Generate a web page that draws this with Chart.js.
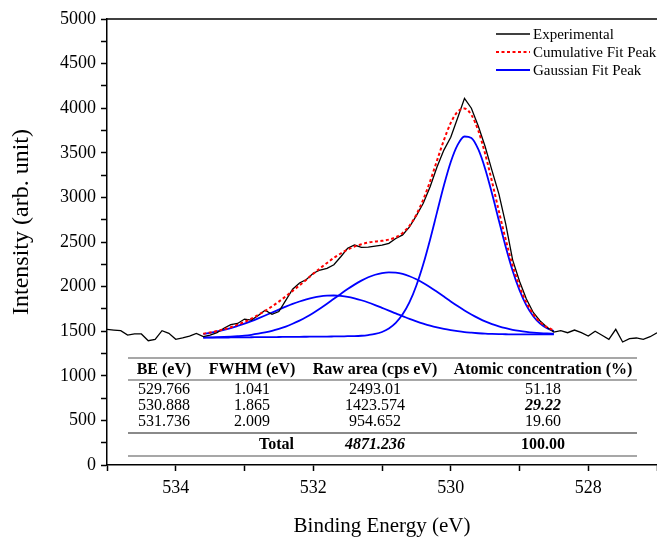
<!DOCTYPE html>
<html>
<head>
<meta charset="utf-8">
<script src="https://cdn.jsdelivr.net/npm/chart.js@4.4.1/dist/chart.umd.min.js"></script>
<style>
  html, body { margin: 0; padding: 0; background: #fff; }
  #wrap { width: 657px; height: 539px; }
</style>
</head>
<body>
<div id="wrap"><canvas id="xpsChart" width="657" height="539"></canvas></div>
<script>
const expEnergy = [
  535.0, 534.9, 534.8, 534.7, 534.6, 534.5, 534.4, 534.3, 534.2, 534.1,
  534.0, 533.9, 533.8, 533.7, 533.6, 533.5, 533.4, 533.3, 533.2, 533.1,
  533.0, 532.9, 532.8, 532.7, 532.6, 532.5, 532.4, 532.3, 532.2, 532.1,
  532.0, 531.9, 531.8, 531.7, 531.6, 531.5, 531.4, 531.3, 531.2, 531.1,
  531.0, 530.9, 530.8, 530.7, 530.6, 530.5, 530.4, 530.3, 530.2, 530.1,
  530.0, 529.9, 529.8, 529.7, 529.6, 529.5, 529.4, 529.3, 529.2, 529.1,
  529.0, 528.9, 528.8, 528.7, 528.6, 528.5, 528.4, 528.3, 528.2, 528.1,
  528.0, 527.9, 527.8, 527.7, 527.6, 527.5, 527.4, 527.3, 527.2, 527.1,
  527.0
];
const experimental = [
  1520, 1513, 1506, 1457, 1469, 1469, 1393, 1409, 1506, 1476,
  1409, 1424, 1446, 1476, 1440, 1457, 1483, 1533, 1574, 1587,
  1636, 1624, 1677, 1735, 1690, 1720, 1845, 1970, 2040, 2080,
  2150, 2186, 2205, 2245, 2335, 2430, 2466, 2440, 2442, 2453,
  2464, 2485, 2540, 2580, 2670, 2795, 2935, 3120, 3340, 3530,
  3675, 3890, 4110, 4000, 3800, 3570, 3300, 3040, 2700, 2300,
  2060, 1860, 1710, 1615, 1545, 1490, 1506, 1483, 1513, 1483,
  1446, 1499, 1454, 1409, 1521, 1379, 1416, 1424, 1409, 1438,
  1483
];

// fitted region
const fitEnergy = [
  533.6, 533.5, 533.4, 533.3, 533.2, 533.1, 533.0, 532.9, 532.8, 532.7,
  532.6, 532.5, 532.4, 532.3, 532.2, 532.1, 532.0, 531.9, 531.8, 531.7,
  531.6, 531.5, 531.4, 531.3, 531.2, 531.1, 531.0, 530.9, 530.8, 530.7,
  530.6, 530.5, 530.4, 530.3, 530.2, 530.1, 530.0, 529.9, 529.8, 529.7,
  529.6, 529.5, 529.4, 529.3, 529.2, 529.1, 529.0, 528.9, 528.8, 528.7,
  528.6, 528.5
];
const cumulativeFit = [
  1471, 1485, 1502, 1521, 1545, 1573, 1604, 1641, 1683, 1728,
  1778, 1832, 1890, 1952, 2014, 2078, 2143, 2206, 2265, 2322,
  2371, 2415, 2449, 2475, 2494, 2505, 2513, 2527, 2553, 2602,
  2682, 2806, 2975, 3181, 3412, 3641, 3835, 3961, 3996, 3925,
  3750, 3490, 3177, 2845, 2524, 2238, 2004, 1823, 1691, 1602,
  1545, 1510
];
const peak529 = [
  1427, 1428, 1429, 1429, 1430, 1431, 1431, 1432, 1433, 1434,
  1434, 1435, 1436, 1437, 1437, 1438, 1439, 1440, 1440, 1441,
  1442, 1444, 1445, 1449, 1457, 1469, 1491, 1530, 1593, 1689,
  1826, 2013, 2250, 2529, 2832, 3133, 3397, 3589, 3683, 3666,
  3540, 3322, 3044, 2741, 2444, 2178, 1959, 1790, 1668, 1585,
  1533, 1502
];
const peak530 = [
  1429, 1431, 1433, 1436, 1440, 1445, 1451, 1460, 1472, 1486,
  1503, 1525, 1551, 1583, 1618, 1659, 1705, 1755, 1807, 1863,
  1918, 1972, 2022, 2067, 2105, 2133, 2152, 2160, 2157, 2142,
  2116, 2082, 2041, 1993, 1941, 1888, 1834, 1782, 1733, 1688,
  1647, 1610, 1580, 1555, 1534, 1516, 1503, 1493, 1485, 1479,
  1475, 1473
];
const peak531 = [
  1469, 1482, 1497, 1514, 1535, 1559, 1584, 1613, 1644, 1676,
  1709, 1742, 1775, 1806, 1833, 1857, 1877, 1891, 1898, 1900,
  1895, 1885, 1868, 1847, 1822, 1793, 1762, 1731, 1699, 1669,
  1638, 1611, 1586, 1563, 1543, 1526, 1512, 1500, 1490, 1483,
  1477, 1472, 1469, 1467, 1466, 1464, 1464, 1464, 1464, 1464,
  1465, 1465
];

const xTickLabels = [534, 532, 530, 528];
const yTickLabels = [0, 500, 1000, 1500, 2000, 2500, 3000, 3500, 4000, 4500, 5000];

const tableHead = ["BE (eV)", "FWHM (eV)", "Raw area (cps eV)", "Atomic concentration (%)"];
const tableRows = [
  ["529.766", "1.041", "2493.01", "51.18"],
  ["530.888", "1.865", "1423.574", "29.22"],
  ["531.736", "2.009", "954.652", "19.60"]
];
const tableTotal = ["Total", "4871.236", "100.00"];

const SERIF = '"Liberation Serif", "Times New Roman", serif';

function pts(xs, ys) {
  return xs.map((x, i) => ({ x: x, y: ys[i] }));
}

// legend + table + top frame + y title drawn on the canvas
const extrasPlugin = {
  id: "extras",
  afterDraw(chart) {
    const ctx = chart.ctx;
    const a = chart.chartArea;
    ctx.save();

    // top frame line
    ctx.strokeStyle = "#000";
    ctx.lineWidth = 1.5;
    ctx.beginPath();
    ctx.moveTo(a.left - 1, a.top);
    ctx.lineTo(a.right, a.top);
    ctx.stroke();

    // y axis title (sits a bit above the axis centre in the original)
    ctx.save();
    ctx.translate(22, 222);
    ctx.rotate(-Math.PI / 2);
    ctx.font = "24px " + SERIF;
    ctx.fillStyle = "#000";
    ctx.textAlign = "center";
    ctx.textBaseline = "middle";
    ctx.fillText("Intensity (arb. unit)", 0, 0);
    ctx.restore();

    // legend
    const items = [
      { text: "Experimental", color: "#000", width: 1.3, dash: [] },
      { text: "Cumulative Fit Peak", color: "#ff0000", width: 2, dash: [3, 2.5] },
      { text: "Gaussian Fit Peak", color: "#0000ff", width: 2, dash: [] }
    ];
    ctx.font = "15px " + SERIF;
    ctx.textBaseline = "middle";
    ctx.textAlign = "left";
    items.forEach((it, i) => {
      const y = 34 + i * 18;
      ctx.strokeStyle = it.color;
      ctx.lineWidth = it.width;
      ctx.setLineDash(it.dash);
      ctx.beginPath();
      ctx.moveTo(496, y);
      ctx.lineTo(530, y);
      ctx.stroke();
      ctx.setLineDash([]);
      ctx.fillStyle = "#000";
      ctx.fillText(it.text, 533, y + 1);
    });

    // table
    const colX = [164, 252, 375, 543];
    const rule = (y, w) => {
      ctx.strokeStyle = "#8a8a8a";
      ctx.lineWidth = w;
      ctx.beginPath();
      ctx.moveTo(128, y);
      ctx.lineTo(637, y);
      ctx.stroke();
    };
    rule(358, 1.3);
    rule(380, 1.3);
    rule(433, 2);
    rule(456, 1.3);

    ctx.fillStyle = "#000";
    ctx.textAlign = "center";
    ctx.font = "bold 16px " + SERIF;
    tableHead.forEach((t, i) => ctx.fillText(t, colX[i], 370));

    tableRows.forEach((row, r) => {
      const y = 390 + r * 16;
      row.forEach((t, i) => {
        ctx.font = (r === 1 && i === 3 ? "italic bold 16px " : "16px ") + SERIF;
        ctx.fillText(t, colX[i], y);
      });
    });

    ctx.font = "bold 16px " + SERIF;
    ctx.textAlign = "right";
    ctx.fillText(tableTotal[0], 294, 445);
    ctx.textAlign = "center";
    ctx.font = "italic bold 16px " + SERIF;
    ctx.fillText(tableTotal[1], colX[2], 445);
    ctx.font = "bold 16px " + SERIF;
    ctx.fillText(tableTotal[2], colX[3], 445);

    ctx.restore();
  }
};

const ctx = document.getElementById("xpsChart").getContext("2d");

new Chart(ctx, {
  type: "line",
  data: {
    datasets: [
      {
        label: "Cumulative Fit Peak",
        data: pts(fitEnergy, cumulativeFit),
        borderColor: "#ff0000",
        borderWidth: 2,
        borderDash: [3, 2.5],
        pointRadius: 0,
        cubicInterpolationMode: "monotone",
        order: 0
      },
      {
        label: "Experimental",
        data: pts(expEnergy, experimental),
        borderColor: "#000000",
        borderWidth: 1.3,
        pointRadius: 0,
        tension: 0,
        order: 1
      },
      {
        label: "Gaussian Fit Peak",
        data: pts(fitEnergy, peak529),
        borderColor: "#0000ff",
        borderWidth: 1.8,
        pointRadius: 0,
        cubicInterpolationMode: "monotone",
        order: 2
      },
      {
        label: "Gaussian Fit Peak",
        data: pts(fitEnergy, peak530),
        borderColor: "#0000ff",
        borderWidth: 1.8,
        pointRadius: 0,
        cubicInterpolationMode: "monotone",
        order: 2
      },
      {
        label: "Gaussian Fit Peak",
        data: pts(fitEnergy, peak531),
        borderColor: "#0000ff",
        borderWidth: 1.8,
        pointRadius: 0,
        cubicInterpolationMode: "monotone",
        order: 2
      }
    ]
  },
  options: {
    responsive: false,
    animation: false,
    devicePixelRatio: 1,
    // the right end of the frame is cut off in the original picture
    layout: { padding: { left: 0, top: 19, right: -4, bottom: 0 } },
    plugins: {
      legend: { display: false },
      tooltip: { enabled: false }
    },
    scales: {
      x: {
        type: "linear",
        reverse: true,
        min: 527,
        max: 535,
        afterFit: scale => {
          scale.height = 74;
          scale.paddingLeft = 0;
          scale.paddingRight = 0;
        },
        border: { color: "#000", width: 1.5 },
        grid: {
          drawOnChartArea: false,
          drawTicks: true,
          tickLength: 6,
          tickColor: "#000",
          tickWidth: 1.5
        },
        ticks: {
          stepSize: 1,
          autoSkip: false,
          maxRotation: 0,
          padding: 6,
          color: "#000",
          font: { family: SERIF, size: 18 },
          callback: value => (xTickLabels.includes(value) ? String(value) : "")
        },
        title: {
          display: true,
          text: "Binding Energy (eV)",
          color: "#000",
          font: { family: SERIF, size: 21 },
          padding: { top: 7, bottom: 0 }
        }
      },
      y: {
        min: 0,
        max: 5000,
        afterFit: scale => {
          scale.width = 107;
          scale.paddingTop = 0;
          scale.paddingBottom = 0;
        },
        border: { color: "#000", width: 1.5 },
        grid: {
          drawOnChartArea: false,
          drawTicks: true,
          tickLength: 6,
          tickColor: "#000",
          tickWidth: 1.5
        },
        ticks: {
          stepSize: 250,
          autoSkip: false,
          padding: 5,
          color: "#000",
          font: { family: SERIF, size: 18 },
          callback: value => (yTickLabels.includes(value) ? String(value) : "")
        },
        title: { display: false }
      }
    }
  },
  plugins: [extrasPlugin]
});
</script>
</body>
</html>
